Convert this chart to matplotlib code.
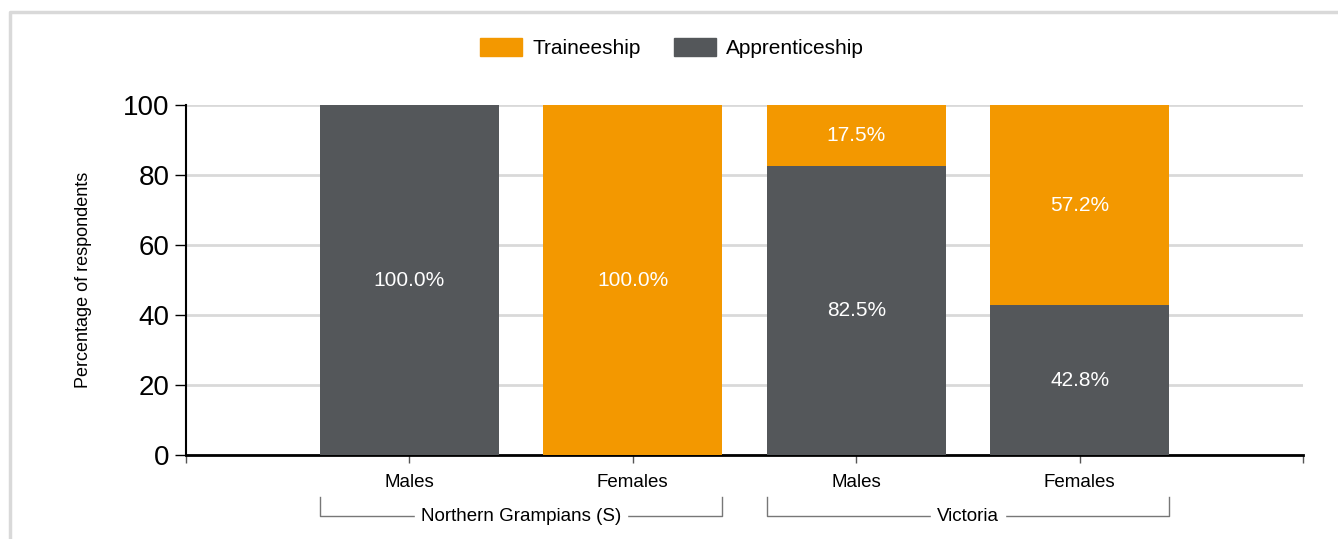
import matplotlib.pyplot as plt
from matplotlib.patches import Patch
from matplotlib.lines import Line2D

plt.rcParams['font.family'] = ['Liberation Sans', 'DejaVu Sans']

categories = ["Males", "Females", "Males", "Females"]
groups = ["Northern Grampians (S)", "Victoria"]
group_span = [(0, 1), (2, 3)]
apprenticeship = [100.0, 0.0, 82.5, 42.8]
traineeship = [0.0, 100.0, 17.5, 57.2]

orange = "#f39800"
grey = "#54575a"

fig = plt.figure(figsize=(13.38, 5.39), dpi=100)
ax = fig.add_axes([186 / 1338, 1 - 455 / 539, 1117 / 1338, 350 / 539])

x = list(range(len(categories)))
ax.bar(x, apprenticeship, width=0.8, color=grey, zorder=3)
ax.bar(x, traineeship, width=0.8, bottom=apprenticeship, color=orange, zorder=3)

for i in x:
    if apprenticeship[i] > 0:
        ax.text(i, apprenticeship[i] / 2, f"{apprenticeship[i]:.1f}%", color="white",
                ha="center", va="center", fontsize=15, zorder=4)
    if traineeship[i] > 0:
        ax.text(i, apprenticeship[i] + traineeship[i] / 2, f"{traineeship[i]:.1f}%",
                color="white", ha="center", va="center", fontsize=15, zorder=4)

ax.set_xlim(-1, 4)
ax.set_ylim(0, 100)
ax.set_xticks(range(-1, 5))
ax.set_xticklabels([""] + categories + [""], fontsize=13.5)
ax.set_yticks(range(0, 101, 20))
ax.tick_params(axis="y", labelsize=20, length=8, width=1, pad=4)
ax.tick_params(axis="x", length=6, width=1, color="#555555", pad=8)
ax.grid(axis="y", color="#d9d9d9", linewidth=2, zorder=0)
for s in ["top", "right"]:
    ax.spines[s].set_visible(False)
ax.spines["bottom"].set_linewidth(2)
ax.spines["left"].set_linewidth(1.5)
ax.set_ylabel("Percentage of respondents", fontsize=13, labelpad=22)

# group brackets under the categories
for name, (a, b) in zip(groups, group_span):
    x0, x1 = a - 0.4, b + 0.4
    ax.plot([x0, x0, x1, x1], [-12, -17.5, -17.5, -12], color="#777777", lw=1,
            clip_on=False)
    ax.text((a + b) / 2, -17.5, name, ha="center", va="center", fontsize=13.5,
            backgroundcolor="white", clip_on=False)

handles = [Patch(color=orange, label="Traineeship"), Patch(color=grey, label="Apprenticeship")]
fig.legend(handles=handles, loc="center", bbox_to_anchor=(672 / 1338, 1 - 48 / 539), ncol=2,
           frameon=False, fontsize=15, handlelength=2.0, handleheight=1.0, columnspacing=1.6,
           handletextpad=0.5)

# light frame around the chart
fig.add_artist(Line2D([10 / 1338, 10 / 1338, 1], [0, 1 - 12 / 539, 1 - 12 / 539],
                      color="#d9d9d9", lw=2.5, transform=fig.transFigure))

fig.savefig("out.png", dpi=100)
